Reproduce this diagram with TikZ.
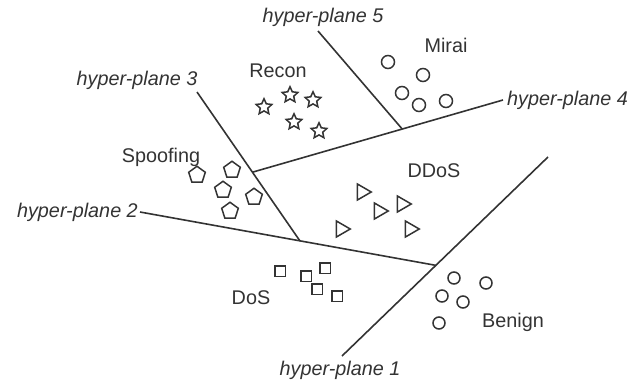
\documentclass[tikz,border=0pt]{standalone}
\usepackage{fontspec}
\setmainfont{Liberation Sans}
\usetikzlibrary{shapes.geometric}
\definecolor{ink}{HTML}{333333}
\begin{document}
\begin{tikzpicture}[x=1pt,y=-1pt,
  plane/.style={draw=ink,line width=1.6pt},
  lbl/.style={text=ink,font=\fontsize{19.8}{22}\selectfont,inner sep=0pt},
  plbl/.style={text=ink,font=\fontsize{19.8}{22}\selectfont\itshape,inner sep=0pt},
  mk/.style={draw=ink,line width=1.5pt,inner sep=0pt,outer sep=0pt},
  starmk/.style={mk,star,star points=5,star point ratio=2.1,minimum size=16.5pt},
  ringmk/.style={mk,circle,minimum size=13pt},
  smallring/.style={mk,circle,minimum size=12pt},
  pentmk/.style={mk,regular polygon,regular polygon sides=5,minimum size=17.5pt},
  trimk/.style={mk,regular polygon,regular polygon sides=3,shape border rotate=-90,minimum size=18.5pt},
  sqmk/.style={mk,rectangle,minimum size=10.5pt},
]
\useasboundingbox (0,0) rectangle (629,383);

% hyper-plane end points
\coordinate (h1a) at (342,356);
\coordinate (h1b) at (548,157);
\coordinate (h2a) at (140,212);
\coordinate (h3a) at (197,92);
\coordinate (h4b) at (503,100);
\coordinate (h5a) at (318,31);
% where the planes meet
\coordinate (h2b) at (intersection of h1a--h1b and h2a--{(445,267)});
\coordinate (h3b) at (intersection of h3a--{(300,241)} and h2a--h2b);
\coordinate (h4a) at (intersection of h3a--h3b and h4b--{(253,172)});
\coordinate (h5b) at (intersection of h5a--{(403,130)} and h4a--h4b);

\draw[plane] (h1a) -- (h1b);
\draw[plane] (h2a) -- (h2b);
\draw[plane] (h3a) -- (h3b);
\draw[plane] (h4a) -- (h4b);
\draw[plane] (h5a) -- (h5b);

% plane labels
\node[plbl] (p1) at (340,370) {hyper-plane 1};
\node[plbl,anchor=east] (p2) at (138,212) {hyper-plane 2};
\node[plbl] (p3) at (137,80) {hyper-plane 3};
\node[plbl,anchor=west] (p4) at (507,100) {hyper-plane 4};
\node[plbl] (p5) at (323,17) {hyper-plane 5};

% class labels
\node[lbl] (recon) at (278,71) {Recon};
\node[lbl] (mirai) at (446,45) {Mirai};
\node[lbl] (spoof) at (161,157) {Spoofing};
\node[lbl] (ddos) at (434,171) {DDoS};
\node[lbl] (dos) at (251,298) {DoS};
\node[lbl] (benign) at (513,322) {Benign};

% Recon
\node[starmk] (r1) at (264,107) {};
\node[starmk] (r2) at (290,95) {};
\node[starmk] (r3) at (313,100) {};
\node[starmk] (r4) at (294,122) {};
\node[starmk] (r5) at (319,131) {};

% Mirai
\node[ringmk] (m1) at (388,62) {};
\node[ringmk] (m2) at (423,75) {};
\node[ringmk] (m3) at (402,93) {};
\node[ringmk] (m4) at (419,105) {};
\node[ringmk] (m5) at (446,101) {};

% Spoofing
\node[pentmk] (s1) at (197,175) {};
\node[pentmk] (s2) at (232,170) {};
\node[pentmk] (s3) at (223,190) {};
\node[pentmk] (s4) at (254,197) {};
\node[pentmk] (s5) at (230,211) {};

% DDoS
\node[trimk] (d1) at (362,192) {};
\node[trimk] (d2) at (379,211) {};
\node[trimk] (d3) at (402,204) {};
\node[trimk] (d4) at (341,229) {};
\node[trimk] (d5) at (410,229) {};

% DoS
\node[sqmk] (q1) at (280,271) {};
\node[sqmk] (q2) at (306,276) {};
\node[sqmk] (q3) at (325,268) {};
\node[sqmk] (q4) at (317,289) {};
\node[sqmk] (q5) at (337,296) {};

% Benign
\node[smallring] (b1) at (454,278) {};
\node[smallring] (b2) at (486,283) {};
\node[smallring] (b3) at (442,296) {};
\node[smallring] (b4) at (463,302) {};
\node[smallring] (b5) at (439,323) {};
\end{tikzpicture}
\end{document}
